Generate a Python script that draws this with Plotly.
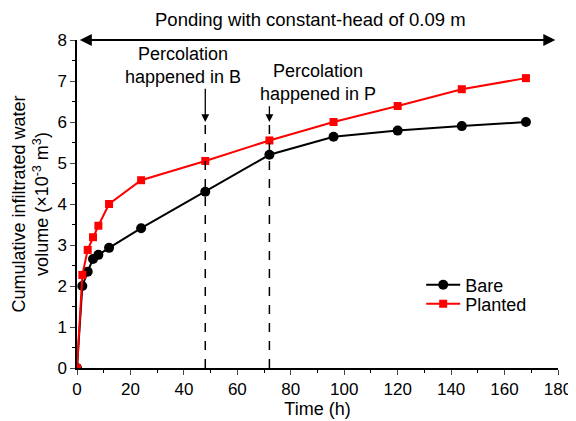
import plotly.graph_objects as go

time_h = [0, 2, 4, 6, 8, 12, 24, 48, 72, 96, 120, 144, 168]
bare = [0, 2.0, 2.35, 2.66, 2.76, 2.93, 3.41, 4.3, 5.2, 5.64, 5.79, 5.9, 6.0]
planted = [0, 2.27, 2.88, 3.19, 3.47, 4.0, 4.58, 5.05, 5.55, 6.0, 6.39, 6.8, 7.07]
x_ticks = [0, 20, 40, 60, 80, 100, 120, 140, 160, 180]
y_ticks = [0, 1, 2, 3, 4, 5, 6, 7, 8]
perc_B = 48
perc_P = 72

FONT = "Liberation Sans, Arial, sans-serif"

W, H = 568, 413
L, R, T, B = 69, 18, 32, 53
pw, ph = W - L - R, H - T - B

fig = go.Figure()
fig.add_trace(go.Scatter(x=time_h, y=bare, name="Bare", mode="lines+markers",
                         line=dict(color="black", width=2),
                         marker=dict(symbol="circle", size=10, color="black"),
                         legend="legend"))
fig.add_trace(go.Scatter(x=time_h, y=planted, name="Planted", mode="lines+markers",
                         line=dict(color="#ff0000", width=2),
                         marker=dict(symbol="square", size=8, color="#ff0000"),
                         legend="legend2"))

# dashed vertical lines
fig.add_shape(type="line", x0=perc_B, x1=perc_B, y0=0, y1=6.0, xref="x", yref="y",
              line=dict(color="black", width=1.5, dash="dash"))
fig.add_shape(type="line", x0=perc_P, x1=perc_P, y0=0, y1=6.0, xref="x", yref="y",
              line=dict(color="black", width=1.5, dash="dash"))

# vertical arrows
fig.add_annotation(x=perc_B, y=6.0, ax=perc_B, ay=6.85, xref="x", yref="y", axref="x", ayref="y",
                   showarrow=True, arrowhead=2, arrowsize=1.2, arrowwidth=1.3, arrowcolor="black", text="")
fig.add_annotation(x=perc_P, y=6.0, ax=perc_P, ay=6.42, xref="x", yref="y", axref="x", ayref="y",
                   showarrow=True, arrowhead=2, arrowsize=1.2, arrowwidth=1.3, arrowcolor="black", text="")

# horizontal double arrow
fig.add_annotation(x=179, y=8, ax=0.5, ay=8, xref="x", yref="y", axref="x", ayref="y",
                   showarrow=True, arrowhead=2, startarrowhead=2, arrowside="end+start",
                   arrowsize=1.2, arrowwidth=2, arrowcolor="black", text="")

fig.add_annotation(x=(310 - 8 - L) / pw, y=(H - B - (20 - 8)) / ph, xref="paper", yref="paper",
                   xanchor="center", yanchor="middle",
                   text="Ponding with constant-head of 0.09 m",
                   showarrow=False, font=dict(size=18.5, color="black", family=FONT))
fig.add_annotation(x=39.5, y=6.8, xref="x", yref="y", text="Percolation<br>happened in B",
                   showarrow=False, font=dict(size=18, color="black", family=FONT), yanchor="bottom")
fig.add_annotation(x=90, y=6.4, xref="x", yref="y", text="Percolation<br>happened in P",
                   showarrow=False, font=dict(size=18, color="black", family=FONT), yanchor="bottom")

fig.update_layout(
    width=W, height=H,
    margin=dict(l=L, r=R, t=T, b=B),
    paper_bgcolor="white", plot_bgcolor="white",
    font=dict(family=FONT, size=17, color="black"),
    showlegend=True,
    legend=dict(x=(426 - 8 - L) / pw - 0.01, y=(H - B - (285 - 8)) / ph, xanchor="left", yanchor="middle",
                bgcolor="rgba(0,0,0,0)", font=dict(size=18), itemwidth=34),
    legend2=dict(x=(426 - 8 - L) / pw - 0.01, y=(H - B - (304 - 8)) / ph, xanchor="left", yanchor="middle",
                 bgcolor="rgba(0,0,0,0)", font=dict(size=18), itemwidth=34),
    xaxis=dict(range=[0, 180], tickvals=x_ticks, ticks="outside", ticklen=5, tickwidth=1.2,
               showline=True, linecolor="black", linewidth=1.5, showgrid=False, zeroline=False,
               automargin=False,
               minor=dict(dtick=10, ticks="outside", ticklen=3, tickcolor="black"),
               title=dict(text="Time (h)", standoff=0, font=dict(size=18)), tickfont=dict(size=17)),
    yaxis=dict(range=[0, 8], tickvals=y_ticks, ticks="outside", ticklen=5, tickwidth=1.2,
               showline=True, linecolor="black", linewidth=1.5, showgrid=False, zeroline=False,
               automargin=False,
               minor=dict(dtick=0.5, ticks="outside", ticklen=3, tickcolor="black"),
               title=dict(text="Cumulative infiltrated water<br>volume (×10<sup>-3</sup> m<sup>3</sup>)",
                          standoff=4, font=dict(size=18)),
               tickfont=dict(size=17)),
)

fig.write_html("out.html")
